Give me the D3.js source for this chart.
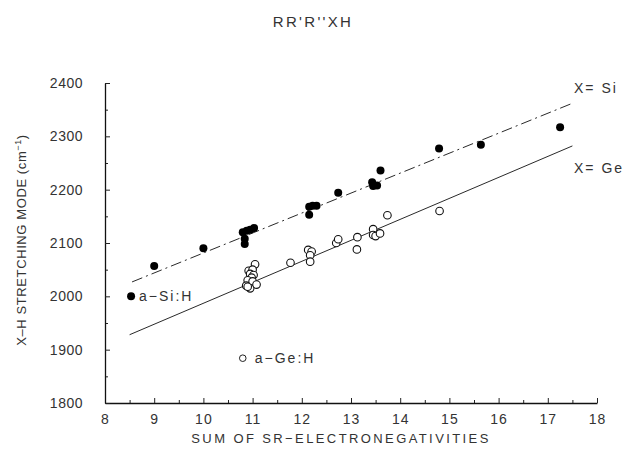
<!DOCTYPE html>
<html>
<head>
<meta charset="utf-8">
<script src="https://cdn.jsdelivr.net/npm/d3@7"></script>
<style>
  body { margin: 0; background: #fff; }
  svg text { font-family: "Liberation Sans", Arial, sans-serif; fill: #333; }
</style>
</head>
<body>
<div id="chart"></div>
<script>
// a-Si:H (X = Si), filled dots
const siX = [9.0, 10.0, 10.8, 10.88, 10.95, 11.03, 10.84, 10.84, 12.15, 12.22, 12.3, 12.15, 12.74, 13.43, 13.53, 13.45, 13.6, 14.79, 15.64, 17.25];
const siY = [2057, 2090, 2120, 2123, 2125, 2128, 2108, 2098, 2168, 2170, 2170, 2153, 2194, 2214, 2208, 2207, 2236, 2277, 2284, 2317];

// a-Ge:H (X = Ge), open circles
const geX = [11.05, 10.92, 11.0, 10.95, 11.02, 10.98, 10.9, 11.0, 10.87, 10.95, 11.08, 10.9, 11.77, 12.13, 12.2, 12.17, 12.17, 12.7, 12.74, 13.12, 13.13, 13.45, 13.45, 13.5, 13.59, 13.74, 14.8];
const geY = [2060, 2048, 2050, 2042, 2040, 2035, 2030, 2028, 2020, 2015, 2022, 2018, 2063, 2087, 2084, 2077, 2065, 2100, 2107, 2088, 2111, 2126, 2115, 2113, 2118, 2152, 2160];

// fitted lines (end points)
const siFitX = [8.55, 17.5];
const siFitY = [2027, 2362];
const geFitX = [8.5, 17.5];
const geFitY = [1928, 2282];

const xTicks = [8, 9, 10, 11, 12, 13, 14, 15, 16, 17, 18];
const yTicks = [1800, 1900, 2000, 2100, 2200, 2300, 2400];

const width = 623, height = 452;
const margin = {top: 83, right: 26, bottom: 49, left: 105};

const svg = d3.select('#chart').append('svg')
  .attr('width', width)
  .attr('height', height);

const x = d3.scaleLinear().domain([8, 18]).range([margin.left, width - margin.right]);
const y = d3.scaleLinear().domain([1800, 2400]).range([height - margin.bottom, margin.top]);

// minor ticks first (inward), then major ticks with labels
const xMinor = d3.range(8.5, 18, 1);
const yMinor = d3.range(1850, 2400, 100);

svg.append('g')
  .attr('transform', 'translate(0,' + y(1800) + ')')
  .call(d3.axisTop(x).tickValues(xMinor).tickSize(3).tickFormat(''))
  .call(g => g.select('.domain').remove())
  .selectAll('line').attr('stroke', '#222');

svg.append('g')
  .attr('transform', 'translate(' + x(8) + ',0)')
  .call(d3.axisRight(y).tickValues(yMinor).tickSize(3).tickFormat(''))
  .call(g => g.select('.domain').remove())
  .selectAll('line').attr('stroke', '#222');

const xAx = svg.append('g')
  .attr('transform', 'translate(0,' + y(1800) + ')')
  .call(d3.axisTop(x).tickValues(xTicks).tickSize(5).tickSizeOuter(0).tickFormat(d3.format('d')));
xAx.select('.domain').attr('stroke', '#111').attr('stroke-width', 1.3);
xAx.selectAll('line').attr('stroke', '#222');
xAx.selectAll('text')
  .attr('y', 16)
  .attr('dy', '0.35em')
  .style('font-size', '14px')
  .style('letter-spacing', '1px');

const yAx = svg.append('g')
  .attr('transform', 'translate(' + x(8) + ',0)')
  .call(d3.axisRight(y).tickValues(yTicks).tickSize(5).tickSizeOuter(0).tickFormat(d3.format('d')));
yAx.select('.domain').attr('stroke', '#111').attr('stroke-width', 1.3);
yAx.selectAll('line').attr('stroke', '#222');
yAx.selectAll('text')
  .attr('x', -22)
  .attr('text-anchor', 'end')
  .style('font-size', '14px')
  .style('letter-spacing', '0.5px');

// fit lines
const line = d3.line().x(d => x(d[0])).y(d => y(d[1]));

svg.append('path')
  .datum(d3.zip(siFitX, siFitY))
  .attr('d', line)
  .attr('fill', 'none')
  .attr('stroke', '#111')
  .attr('stroke-width', 0.9)
  .attr('stroke-dasharray', '11,4,2,4');

svg.append('path')
  .datum(d3.zip(geFitX, geFitY))
  .attr('d', line)
  .attr('fill', 'none')
  .attr('stroke', '#111')
  .attr('stroke-width', 0.9);

// points
svg.append('g').selectAll('circle')
  .data(d3.zip(geX, geY))
  .join('circle')
  .attr('cx', d => x(d[0]))
  .attr('cy', d => y(d[1]))
  .attr('r', 3.8)
  .attr('fill', '#fff')
  .attr('stroke', '#111')
  .attr('stroke-width', 1.1);

svg.append('g').selectAll('circle')
  .data(d3.zip(siX, siY))
  .join('circle')
  .attr('cx', d => x(d[0]))
  .attr('cy', d => y(d[1]))
  .attr('r', 4)
  .attr('fill', '#000');

// legend markers
svg.append('circle').attr('cx', x(8.53)).attr('cy', y(2000)).attr('r', 4).attr('fill', '#000');
svg.append('text').attr('x', x(8.53) + 8).attr('y', y(2000)).attr('dy', '0.35em')
  .style('font-size', '14px').style('letter-spacing', '2px').text('a\u2212Si:H');

svg.append('circle').attr('cx', x(10.8)).attr('cy', y(1884)).attr('r', 3.3)
  .attr('fill', '#fff').attr('stroke', '#222').attr('stroke-width', 1);
svg.append('text').attr('x', x(10.8) + 12).attr('y', y(1884)).attr('dy', '0.35em')
  .style('font-size', '14px').style('letter-spacing', '2px').text('a\u2212Ge:H');

// line labels
svg.append('text').attr('x', 574).attr('y', 88).attr('dy', '0.35em')
  .style('font-size', '14px').style('letter-spacing', '2px').text('X= Si');
svg.append('text').attr('x', 574).attr('y', 168).attr('dy', '0.35em')
  .style('font-size', '14px').style('letter-spacing', '2px').text('X= Ge');

// title
svg.append('text').attr('x', 313).attr('y', 22).attr('dy', '0.35em')
  .attr('text-anchor', 'middle').style('font-size', '15px').style('letter-spacing', '2.3px')
  .text("RR'R''XH");

// axis titles
svg.append('text').attr('x', 341).attr('y', 438).attr('dy', '0.35em')
  .attr('text-anchor', 'middle').style('font-size', '13px').style('letter-spacing', '2.4px')
  .text('SUM OF SR\u2212ELECTRONEGATIVITIES');

const yl = svg.append('text')
  .attr('transform', 'translate(21,' + 240 + ') rotate(-90)')
  .attr('text-anchor', 'middle')
  .attr('dy', '0.35em')
  .style('font-size', '13px')
  .style('letter-spacing', '0.6px');
yl.append('tspan').text('X\u2013H STRETCHING MODE (cm');
yl.append('tspan').attr('baseline-shift', 'super').style('font-size', '9px').text('\u22121');
yl.append('tspan').text(')');
</script>
</body>
</html>
